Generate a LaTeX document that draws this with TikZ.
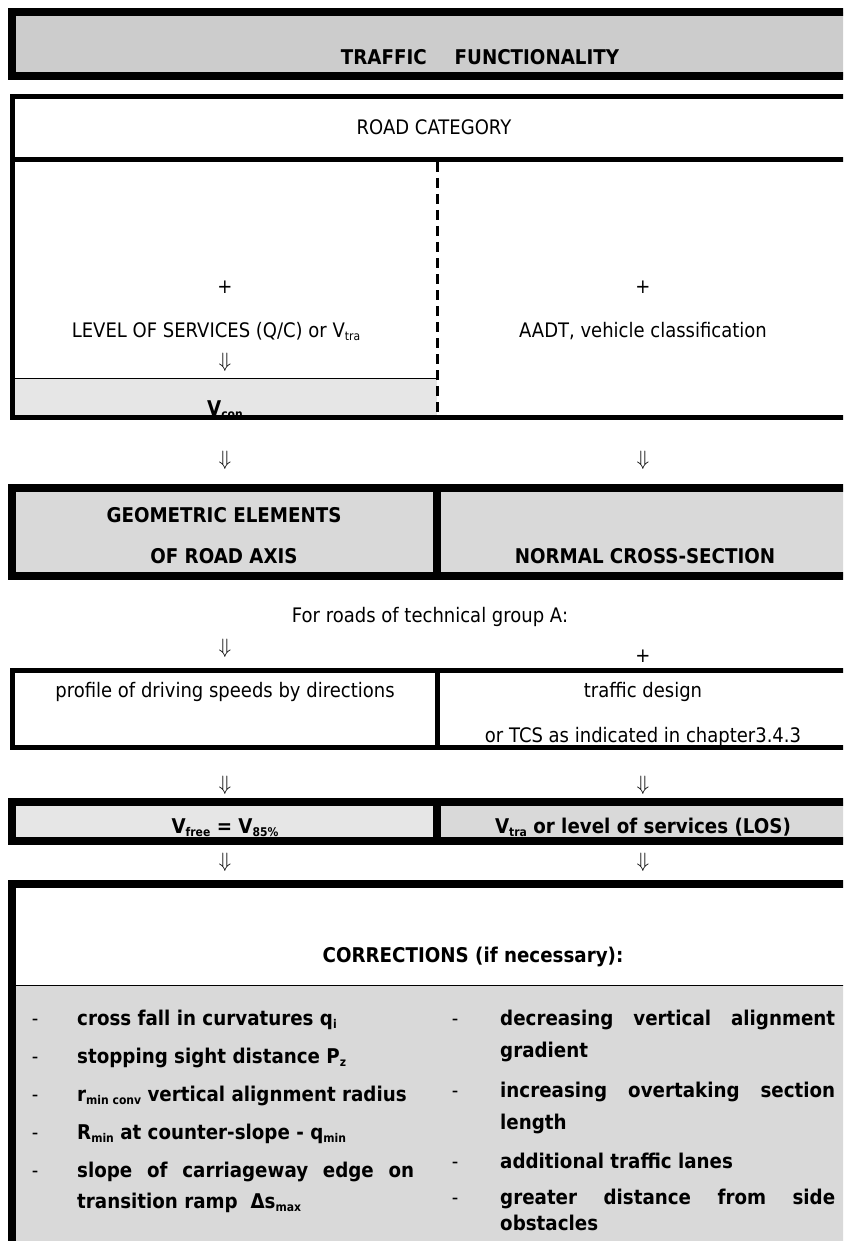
\documentclass[tikz,border=0pt]{standalone}
\usepackage{fontspec}
\setmainfont{DejaVu Sans}[FakeStretch=0.9]
\usepackage{tikz}
\definecolor{graytop}{HTML}{CCCCCC}
\definecolor{graymid}{HTML}{D9D9D9}
\definecolor{graylow}{HTML}{E6E6E6}
\newcommand{\lo}[1]{\raisebox{-0.3ex}{\fontsize{12}{12}\selectfont #1}}
\newcommand{\dwn}{$\Downarrow$}

\begin{document}
\begin{tikzpicture}[x=1pt,y=-1pt,
  txt/.style={font=\fontsize{20}{24}\selectfont,inner sep=0pt,anchor=base},
  btxt/.style={font=\fontsize{20.3}{24}\selectfont\bfseries,inner sep=0pt,anchor=base},
  heavy/.style={draw=black,line width=8pt},
  light/.style={draw=black,line width=5pt}]
\useasboundingbox (0,0) rectangle (843,1241);
\clip (0,0) rectangle (843,1241);

% traffic functionality
\fill[graytop] (12,12) rectangle (870,76);
\node[btxt] (tf) at (480,65) {TRAFFIC\hspace{28pt}FUNCTIONALITY};
\draw[heavy] (12,12) rectangle (870,76);

% road category
\fill[graylow] (12,378) rectangle (437,418);
\node[txt] (rc) at (434,135) {ROAD CATEGORY};
\node[txt] (pl1) at (225,293) {+};
\node[txt] (pl2) at (643,293) {+};
\node[txt] (los) at (216,337) {LEVEL OF SERVICES (Q/C) or V\lo{tra}};
\node[txt] (aadt) at (643,337) {AADT, vehicle classification};
\node[txt] (d1) at (225,367) {\dwn};
\node[btxt] (vcon) at (225,415) {V\lo{con}};
\draw[line width=1pt] (12,378) -- (437,378);
\draw[line width=3pt,dash pattern=on 10pt off 6pt] (437,162) -- (437,416);
\draw[light] (12.5,96.5) rectangle (870,417.5);
\draw[light] (12.5,160) -- (870,160);

\node[txt] (d2) at (225,465) {\dwn};
\node[txt] (d3) at (643,465) {\dwn};

% geometric elements / cross-section
\fill[graymid] (12,488) rectangle (870,576);
\node[btxt] (geo) at (224,522) {GEOMETRIC ELEMENTS};
\node[btxt] (axis) at (224,563) {OF ROAD AXIS};
\node[btxt] (ncs) at (645,563) {NORMAL CROSS-SECTION};
\draw[heavy] (12,488) rectangle (870,576);
\draw[heavy] (437,488) -- (437,576);

\node[txt] (grpa) at (430,622) {For roads of technical group A:};
\node[txt] (d4) at (225,653) {\dwn};
\node[txt] (pl3) at (643,662) {+};

% driving speeds / traffic design
\node[txt] (prof) at (225,697) {profile of driving speeds by directions};
\node[txt] (tdes) at (643,697) {traffic design};
\node[txt] (tcs) at (643,742) {or TCS as indicated in chapter3.4.3};
\draw[light] (12.5,670.5) rectangle (870,747.5);
\draw[light] (437,670.5) -- (437,747.5);

\node[txt] (d5) at (225,790) {\dwn};
\node[txt] (d6) at (643,790) {\dwn};

% speeds
\fill[graylow] (12,802) rectangle (437,841);
\fill[graymid] (437,802) rectangle (870,841);
\node[btxt] (vfree) at (225,833) {V\lo{free} = V\lo{85\%}};
\node[btxt] (vtra) at (643,833) {V\lo{tra} or level of services (LOS)};
\draw[heavy] (12,802) rectangle (870,841);
\draw[heavy] (437,802) -- (437,841);

\node[txt] (d7) at (225,867) {\dwn};
\node[txt] (d8) at (643,867) {\dwn};

% corrections
\fill[graymid] (12,985) rectangle (870,1300);
\node[btxt] (corr) at (473,962) {CORRECTIONS (if necessary):};
\draw[line width=1pt] (12,985) -- (870,985);
\foreach \y/\t [count=\i] in {1025/{cross fall in curvatures q\lo{i}},
    1063/{stopping sight distance P\lo{z}},
    1101/{r\lo{min conv} vertical alignment radius},
    1139/{R\lo{min} at counter-slope - q\lo{min}},
    1177/{\makebox[337pt][s]{slope of carriageway edge on}}}
  {\node[txt] (ld\i) at (35,\y) {-};
   \node[btxt,anchor=base west] (li\i) at (77,\y) {\t};}
\node[btxt,anchor=base west] (li6) at (77,1208) {transition ramp\ \ Δs\lo{max}};
\foreach \y/\t [count=\i] in {1025/{\makebox[335pt][s]{decreasing vertical alignment}},
    1097/{\makebox[335pt][s]{increasing overtaking section}},
    1168/{additional traffic lanes},
    1204/{\makebox[335pt][s]{greater distance from side}}}
  {\node[txt] (rd\i) at (455,\y) {-};
   \node[btxt,anchor=base west] (ri\i) at (500,\y) {\t};}
\node[btxt,anchor=base west] (rg) at (500,1057) {gradient};
\node[btxt,anchor=base west] (rl) at (500,1129) {length};
\node[btxt,anchor=base west] (ro) at (500,1230) {obstacles};
\draw[heavy] (12,884) rectangle (870,1300);
\end{tikzpicture}
\end{document}
